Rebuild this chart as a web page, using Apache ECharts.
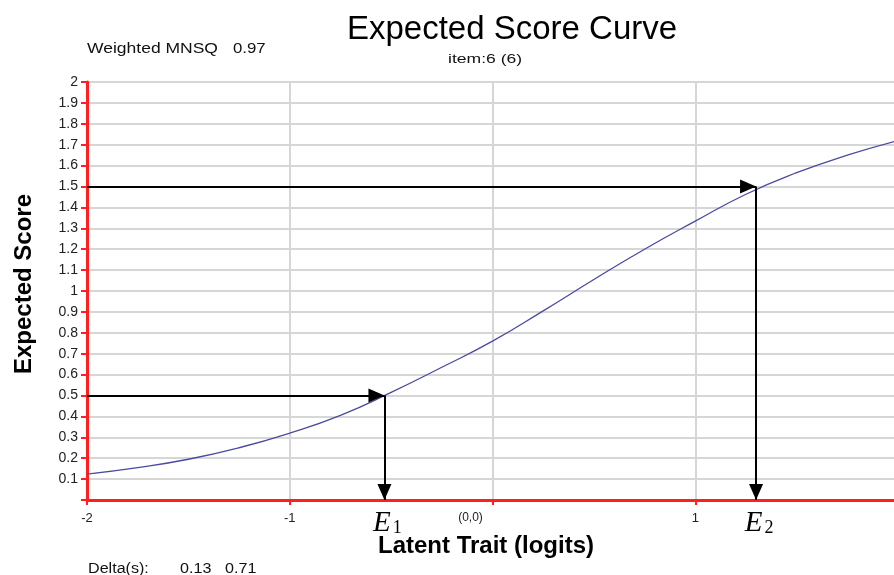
<!DOCTYPE html>
<html>
<head>
<meta charset="utf-8">
<title>Expected Score Curve</title>
<script src="https://cdn.jsdelivr.net/npm/echarts@6/dist/echarts.min.js"></script>
<style>
  html, body { margin: 0; padding: 0; background: #fff; }
  #chart { width: 894px; height: 575px; }
</style>
</head>
<body>
<div id="chart"></div>
<script>
// curve
const logits = [-2, -1.75, -1.5, -1.25, -1, -0.75, -0.5, -0.25, 0, 0.25, 0.5, 0.75, 1, 1.25, 1.5, 1.75, 2]
const expectedScore = [0.124, 0.155, 0.195, 0.25, 0.32, 0.405, 0.515, 0.635, 0.76, 0.905, 1.055, 1.2, 1.334, 1.463, 1.566, 1.65, 1.72]

// guide arrows: score level -> ability where the curve reaches it
const guideScores = [0.5, 1.5]
const guideLogits = [-0.533, 1.3]
const guideNames = ['1', '2']

const deltas = ['0.13', '0.71']

const FONT = 'Liberation Sans, Arial, sans-serif'
const SERIF = 'Liberation Serif, Times New Roman, serif'
const chart = echarts.init(document.getElementById('chart'))

const markLines = []
guideScores.forEach((s, i) => {
    markLines.push([{ coord: [-2, s] }, { coord: [guideLogits[i], s] }]) // across to the curve
    markLines.push([{ coord: [guideLogits[i], s] }, { coord: [guideLogits[i], 0] }]) // down to the axis
})

// small captions, stretched a little to look like the old wide UI font
function caption(text, x, y, size, sx) {
    return {
        type: 'text', x: x, y: y, scaleX: sx, silent: true,
        style: { text: text, font: size + 'px ' + FONT, fill: '#111', textVerticalAlign: 'middle' }
    }
}

chart.setOption({
    animation: false,
    title: [
        {
            text: 'Expected Score Curve',
            left: 512, top: 13, padding: 0, textAlign: 'center',
            textStyle: { fontFamily: FONT, fontSize: 33, fontWeight: 'normal', color: '#000' }
        }
    ],
    graphic: [
        caption('Weighted MNSQ', 87, 49, 14, 1.25),
        caption('0.97', 233, 49, 14, 1.2),
        caption('item:6 (6)', 448, 59, 13, 1.35),
        caption('Delta(s):', 88, 569, 14, 1.15),
        caption(deltas[0], 180, 569, 14, 1.15),
        caption(deltas[1], 225, 569, 14, 1.15)
    ],
    grid: { left: 87, top: 82, width: 811, bottom: 75, outerBoundsMode: 'none', containLabel: false },
    xAxis: {
        type: 'value',
        min: -2, max: 2, interval: 1,
        name: 'Latent Trait (logits)',
        nameLocation: 'middle',
        nameGap: 34,
        nameTextStyle: { fontFamily: FONT, fontSize: 24, fontWeight: 'bold', color: '#000', padding: [0, 13, 0, 0] },
        axisLine: { onZero: false, lineStyle: { color: '#ff1f1f', width: 3 } },
        axisTick: { length: 5, lineStyle: { color: '#ff1f1f', width: 2 } },
        axisLabel: {
            margin: 12,
            fontFamily: FONT, fontSize: 13, color: '#222',
            formatter: v => (v === 0 ? '{z|(0,0)}' : String(v)),
            rich: { z: { fontFamily: FONT, fontSize: 12, color: '#222', padding: [0, 44, 0, 0] } }
        },
        splitLine: { lineStyle: { color: '#d6d6d6', width: 2 } }
    },
    yAxis: {
        type: 'value',
        min: 0, max: 2, interval: 0.1,
        name: 'Expected Score',
        nameLocation: 'middle',
        nameGap: 51,
        nameTextStyle: { fontFamily: FONT, fontSize: 24, fontWeight: 'bold', color: '#000', padding: [0, 0, 0, 14] },
        axisLine: { show: true, onZero: false, lineStyle: { color: '#ff1f1f', width: 3 } },
        axisTick: { show: true, length: 6, lineStyle: { color: '#ff1f1f', width: 2 } },
        axisLabel: {
            margin: 9,
            fontFamily: FONT, fontSize: 14, color: '#222',
            formatter: v => (v === 0 ? '' : String(Math.round(v * 10) / 10))
        },
        splitLine: { lineStyle: { color: '#d6d6d6', width: 2 } }
    },
    series: [
        {
            type: 'line',
            data: logits.map((x, i) => [x, expectedScore[i]]),
            smooth: true,
            showSymbol: false,
            silent: true,
            lineStyle: { color: '#4a4aa0', width: 1.3 },
            markLine: {
                silent: true,
                symbol: ['none', 'triangle'],
                symbolSize: [14, 16],
                symbolOffset: [0, [0, '50%']],
                label: { show: false },
                lineStyle: { color: '#000', width: 2, type: 'solid' },
                emphasis: { disabled: true },
                data: markLines
            },
            markPoint: {
                silent: true,
                symbol: 'circle',
                symbolSize: 0,
                label: {
                    show: true,
                    offset: [3, 23],
                    formatter: p => '{e|E}{s|' + p.name + '}',
                    rich: {
                        e: { fontFamily: SERIF, fontStyle: 'italic', fontSize: 29, color: '#000' },
                        s: { fontFamily: SERIF, fontSize: 18, color: '#000', padding: [10, 0, 0, 2] }
                    }
                },
                data: guideNames.map((n, i) => ({ name: n, coord: [guideLogits[i], 0] }))
            }
        }
    ]
})
</script>
</body>
</html>
